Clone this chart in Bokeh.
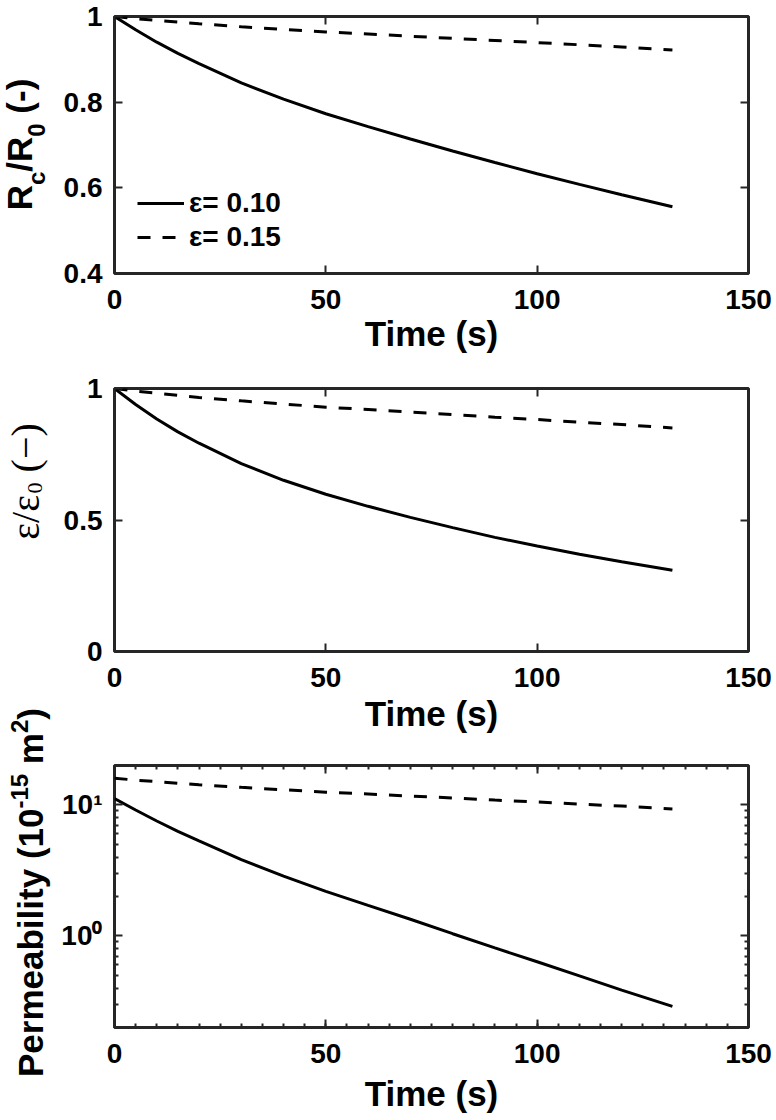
import math
from bokeh.plotting import figure
from bokeh.layouts import column, row
from bokeh.models import (Legend, LegendItem, FixedTicker, LinearAxis,
                          LogAxis, Range1d)
from bokeh.core.properties import value
from bokeh.embed import file_html
from bokeh.resources import INLINE

# ---------------- data ----------------
time_s = [0, 5, 10, 15, 20, 30, 40, 50, 60, 70, 80, 90, 100, 110, 120, 132]

rc_eps010 = [1.000, 0.969, 0.940, 0.914, 0.890, 0.845, 0.807, 0.773, 0.743,
             0.714, 0.686, 0.659, 0.633, 0.608, 0.584, 0.556]
rc_eps015 = [1.000, 0.995, 0.991, 0.987, 0.983, 0.976, 0.970, 0.964, 0.959,
             0.954, 0.949, 0.944, 0.939, 0.934, 0.929, 0.922]

eps_eps010 = [1.000, 0.939, 0.884, 0.835, 0.792, 0.714, 0.651, 0.598, 0.552,
              0.510, 0.471, 0.434, 0.401, 0.370, 0.341, 0.309]
eps_eps015 = [1.000, 0.990, 0.982, 0.974, 0.966, 0.953, 0.941, 0.929, 0.920,
              0.910, 0.901, 0.891, 0.882, 0.872, 0.863, 0.850]

perm_eps010 = [11.2, 9.15, 7.54, 6.29, 5.32, 3.83, 2.86, 2.19, 1.71,
               1.34, 1.04, 0.81, 0.635, 0.496, 0.386, 0.29]
perm_eps015 = [16.0, 15.47, 15.06, 14.65, 14.25, 13.62, 13.06, 12.51, 12.12,
               11.68, 11.30, 10.89, 10.53, 10.15, 9.80, 9.33]

series_labels = ["ε= 0.10", "ε= 0.15"]

x_ticks = [0, 50, 100, 150]
x_minor_ticks = [0, 5, 10, 15, 20, 25, 30, 35, 40, 45, 50, 55, 60, 65, 70, 75,
                 80, 85, 90, 95, 100, 105, 110, 115, 120, 125, 130, 135, 140,
                 145, 150]
rc_ticks = [0.4, 0.6, 0.8, 1.0]
rc_tick_labels = ["0.4", "0.6", "0.8", "1"]
eps_ticks = [0, 0.5, 1.0]
eps_tick_labels = ["0", "0.5", "1"]
perm_ticks = [1, 10]
perm_tick_labels = ["10\u2070", "10\u00b9"]
perm_minor_ticks = [0.2, 0.3, 0.4, 0.5, 0.6, 0.7, 0.8, 0.9,
                    2, 3, 4, 5, 6, 7, 8, 9, 20]

# ---------------- style ----------------
FONT = "Liberation Sans"
SERIF = "Liberation Serif"
INK = "#262626"
TICK_SIZE = "28px"
TITLE_SIZE = 35
TOTAL_H = 1118
TITLE_W = 58
FRAME_LEFT = 112
NB = "\u00a0"  # non-breaking space (SVG would collapse a plain leading space)

# advance widths (per 1000 em)
W_SANS_B = {NB: 278, '(': 333, ')': 333, '-': 333, '/': 278, '.': 278,
            'P': 667, 'e': 556, 'r': 389, 'm': 889, 'a': 556, 'b': 611,
            'i': 278, 'l': 278, 't': 333, 'y': 556, 'R': 722, 'c': 556,
            'T': 611, 's': 556}
for d in "0123456789":
    W_SANS_B[d] = 556
W_SERIF = {NB: 250, '(': 333, ')': 333, '/': 278, '\u03b5': 440,
           '\u2212': 564, '0': 500}


def text_width(txt, size, table):
    return sum(table.get(ch, 556) for ch in txt) * size / 1000.0


# ---------------- y-axis titles (a narrow pixel-scaled strip) ----------------
tf = figure(width=TITLE_W, height=TOTAL_H, x_range=Range1d(0, TITLE_W),
            y_range=Range1d(0, TOTAL_H), output_backend="svg",
            toolbar_location=None, x_axis_location=None, y_axis_location=None,
            min_border=0, min_border_left=0, min_border_right=0,
            min_border_top=0, min_border_bottom=0)
tf.grid.visible = False
tf.outline_line_color = None
tf.background_fill_color = "white"
tf.border_fill_color = "white"


def vtitle(pieces, baseline_page, y_center_page):
    """Rotated (bottom-to-top) rich text built from pieces.
    pieces: (text, size, bold, shift, serif); shift>0 raises (superscript)."""
    widths = [text_width(t, s, W_SERIF if serif else W_SANS_B)
              for (t, s, b, sh, serif) in pieces]
    y = (TOTAL_H - y_center_page) - sum(widths) / 2.0
    for (t, s, b, sh, serif), w in zip(pieces, widths):
        xc = baseline_page - sh - 0.35 * s   # middle of the text line
        tf.text(x=[xc], y=[y], text=[t], angle=math.pi / 2,
                text_align="left", text_baseline="middle",
                text_font=value(SERIF if serif else FONT),
                text_font_size=value(f"{s}px"),
                text_font_style="bold" if b else "normal",
                text_color="black")
        y += w


vtitle([("R", TITLE_SIZE, True, 0, False),
        ("c", 24, True, -13, False),
        ("/R", TITLE_SIZE, True, 0, False),
        ("0", 24, True, -13, False),
        (NB + "(-)", TITLE_SIZE, True, 0, False)], 31, 144)
vtitle([("\u03b5/\u03b5", 40, False, 0, True),
        ("0", 22, False, -3, True),
        (NB + "(\u2212)", 40, False, 0, True)], 39, 481)
vtitle([("Permeability" + NB + "(10", TITLE_SIZE, True, 0, False),
        ("-15", 24, True, 15, False),
        (NB + "m", TITLE_SIZE, True, 0, False),
        ("2", 24, True, 15, False),
        (")", TITLE_SIZE, True, 0, False)], 42, 892)


# ---------------- helpers for the three panels ----------------
def style_axis(ax, ticker, labels_visible=True, minor_len=0, standoff=12,
               overrides=None):
    ax.ticker = ticker
    ax.axis_line_color = None
    ax.major_tick_in = 8
    ax.major_tick_out = 0
    ax.major_tick_line_color = INK
    ax.major_tick_line_width = 2
    if minor_len:
        ax.minor_tick_in = minor_len
        ax.minor_tick_out = 0
        ax.minor_tick_line_color = INK
        ax.minor_tick_line_width = 2
    else:
        ax.minor_tick_line_color = None
    ax.major_label_text_font = FONT
    ax.major_label_text_font_style = "bold"
    if labels_visible:
        ax.major_label_text_color = "black"
        ax.major_label_text_font_size = TICK_SIZE
        ax.major_label_standoff = standoff
    else:
        ax.major_label_text_color = None
        ax.major_label_text_font_size = "1px"
        ax.major_label_standoff = 0
    if overrides:
        ax.major_label_overrides = overrides


def make_fig(height, top, bottom, y_range, y_type="linear"):
    p = figure(width=776 - TITLE_W, height=height, x_range=Range1d(0, 150),
               y_range=y_range, y_axis_type=y_type,
               output_backend="svg", toolbar_location=None,
               min_border_left=FRAME_LEFT - TITLE_W, min_border_right=28,
               min_border_top=top, min_border_bottom=bottom)
    p.grid.visible = False
    p.outline_line_color = INK
    p.outline_line_width = 3
    p.outline_line_alpha = 1.0
    p.background_fill_color = "white"
    p.border_fill_color = "white"
    return p


def decorate(p, y_ticker, y_overrides, log=False, minor=False, label_gap=3):
    bx = p.below[0]
    ly = p.left[0]
    mlen = 4 if minor else 0
    x_tk = FixedTicker(ticks=x_ticks, minor_ticks=x_minor_ticks if minor else [])
    style_axis(bx, x_tk, True, mlen, standoff=16)
    style_axis(ly, y_ticker, True, mlen, standoff=12, overrides=y_overrides)
    bx.axis_label = "Time (s)"
    bx.axis_label_text_font = FONT
    bx.axis_label_text_font_size = f"{TITLE_SIZE}px"
    bx.axis_label_text_font_style = "bold"
    bx.axis_label_text_color = "black"
    bx.axis_label_standoff = label_gap
    top_ax = LinearAxis()
    style_axis(top_ax, FixedTicker(ticks=x_ticks,
                                   minor_ticks=x_minor_ticks if minor else []),
               False, mlen)
    p.add_layout(top_ax, "above")
    right_ax = LogAxis() if log else LinearAxis()
    style_axis(right_ax, y_ticker, False, mlen)
    p.add_layout(right_ax, "right")


def add_lines(p, y010, y015):
    r1 = p.line(time_s, y010, line_color="black", line_width=3)
    r2 = p.line(time_s, y015, line_color="black", line_width=3,
                line_dash="13 12")
    return r1, r2


# ---------------- panel 1 ----------------
p1 = make_fig(362, 16, 89, Range1d(0.4, 1.0))
decorate(p1, FixedTicker(ticks=rc_ticks, minor_ticks=[]),
         dict(zip(rc_ticks, rc_tick_labels)), label_gap=2)
r1, r2 = add_lines(p1, rc_eps010, rc_eps015)
legend = Legend(items=[LegendItem(label=series_labels[0], renderers=[r1]),
                       LegendItem(label=series_labels[1], renderers=[r2])],
                location=(23, 19), orientation="vertical",
                border_line_color=None, background_fill_alpha=0.0,
                label_text_font=FONT, label_text_font_size=TICK_SIZE,
                label_text_font_style="bold", label_text_color="black",
                glyph_width=47, glyph_height=34, label_height=34,
                label_standoff=5, spacing=0, padding=0, margin=0)
p1.add_layout(legend)

# ---------------- panel 2 ----------------
p2 = make_fig(383, 26, 94, Range1d(0, 1.0))
decorate(p2, FixedTicker(ticks=eps_ticks, minor_ticks=[]),
         dict(zip(eps_ticks, eps_tick_labels)), label_gap=4)
add_lines(p2, eps_eps010, eps_eps015)

# ---------------- panel 3 ----------------
p3 = make_fig(373, 20, 91, Range1d(0.2, 20), y_type="log")
decorate(p3, FixedTicker(ticks=perm_ticks, minor_ticks=perm_minor_ticks),
         dict(zip(perm_ticks, perm_tick_labels)), log=True, minor=True,
         label_gap=8)
add_lines(p3, perm_eps010, perm_eps015)

layout = row(tf, column(p1, p2, p3, spacing=0), spacing=0)
open("out.html", "w").write(file_html(layout, INLINE))
